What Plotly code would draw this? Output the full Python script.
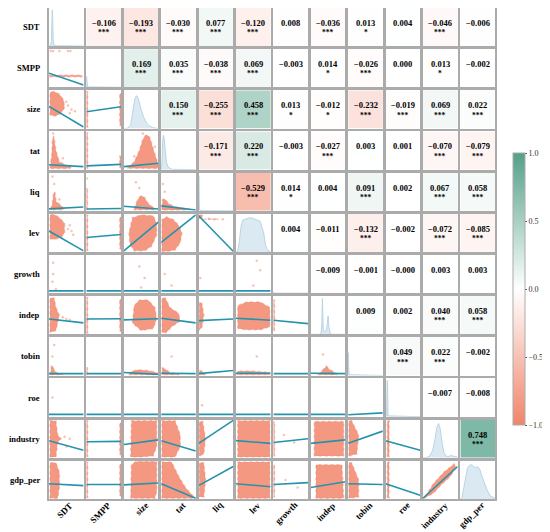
import plotly.graph_objects as go
from plotly.subplots import make_subplots

variables = ["SDT", "SMPP", "size", "tat", "liq", "lev", "growth",
             "indep", "tobin", "roe", "industry", "gdp_per"]

# upper triangle, one list per row (columns to the right of the diagonal)
corr_rows = [
    [-0.106, -0.193, -0.030, 0.077, -0.120, 0.008, -0.036, 0.013, 0.004, -0.046, -0.006],
    [0.169, 0.035, -0.038, 0.069, -0.003, 0.014, -0.026, 0.000, 0.013, -0.002],
    [0.150, -0.255, 0.458, 0.013, -0.012, -0.232, -0.019, 0.069, 0.022],
    [-0.171, 0.220, -0.003, -0.027, 0.003, 0.001, -0.070, -0.079],
    [-0.529, 0.014, 0.004, 0.091, 0.002, 0.067, 0.058],
    [0.004, -0.011, -0.132, -0.002, -0.072, -0.085],
    [-0.009, -0.001, -0.0, 0.003, 0.003],
    [0.009, 0.002, 0.040, 0.058],
    [0.049, 0.022, -0.002],
    [-0.007, -0.008],
    [0.748],
]
star_rows = [
    ["***", "***", "***", "***", "***", "", "***", "*", "", "***", ""],
    ["***", "***", "***", "***", "", "*", "***", "", "*", ""],
    ["***", "***", "***", "*", "*", "***", "***", "***", "***"],
    ["***", "***", "", "***", "", "", "***", "***"],
    ["***", "*", "", "***", "", "***", "***"],
    ["", "", "***", "", "***", "***"],
    ["", "", "", "", ""],
    ["", "", "***", "***"],
    ["***", "***", ""],
    ["", ""],
    ["***"],
]

# diagonal density curves (cell-normalised x, height)
kde_curves = {
    "SDT": ([0, 0.05, 0.07, 0.085, 0.095, 0.105, 0.12, 0.14, 0.2, 1],
            [0, 0.01, 0.15, 0.7, 0.95, 0.75, 0.2, 0.04, 0.01, 0]),
    "SMPP": ([0, 0.005, 0.015, 0.03, 1], [0, 0.3, 0.2, 0.01, 0]),
    "size": ([0, 0.12, 0.2, 0.27, 0.32, 0.37, 0.42, 0.5, 0.58, 0.66, 0.75, 0.85, 0.95, 1],
             [0, 0.01, 0.1, 0.45, 0.78, 0.86, 0.78, 0.5, 0.28, 0.14, 0.06, 0.02, 0.005, 0]),
    "tat": ([0, 0.02, 0.04, 0.06, 0.08, 0.11, 0.15, 0.2, 0.3, 1],
            [0, 0.2, 0.7, 0.9, 0.85, 0.5, 0.2, 0.07, 0.01, 0]),
    "liq": ([0, 0.005, 0.012, 0.02, 0.04, 1], [0, 0.92, 0.6, 0.1, 0.01, 0]),
    "lev": ([0, 0.05, 0.1, 0.15, 0.2, 0.3, 0.4, 0.5, 0.6, 0.7, 0.8, 0.85, 0.9, 0.95, 1],
            [0, 0.02, 0.3, 0.7, 0.84, 0.88, 0.9, 0.88, 0.85, 0.8, 0.5, 0.2, 0.06, 0.02, 0]),
    "growth": ([0, 0.005, 0.015, 1], [0, 0.03, 0, 0]),
    "indep": ([0, 0.25, 0.3, 0.32, 0.335, 0.345, 0.36, 0.4, 0.45, 0.48, 0.5, 0.52, 0.56, 0.6, 1],
              [0, 0, 0.04, 0.3, 0.94, 0.5, 0.1, 0.08, 0.1, 0.3, 0.48, 0.2, 0.04, 0, 0]),
    "tobin": ([0, 0.005, 0.012, 0.025, 1], [0, 0.6, 0.3, 0.02, 0]),
    "roe": ([0, 0.03, 0.045, 0.055, 0.07, 1], [0, 0.02, 0.95, 0.9, 0.02, 0]),
    "industry": ([0, 0.1, 0.2, 0.28, 0.35, 0.4, 0.45, 0.5, 0.55, 0.6, 0.66, 0.72, 0.8, 0.9, 1],
                 [0, 0.01, 0.05, 0.2, 0.5, 0.8, 0.9, 0.75, 0.4, 0.15, 0.05, 0.03, 0.06, 0.04, 0.02]),
    "gdp_per": ([0, 0.05, 0.1, 0.15, 0.2, 0.26, 0.32, 0.38, 0.44, 0.5, 0.56, 0.62, 0.7, 0.78, 0.86, 0.93, 1],
                [0, 0.05, 0.3, 0.6, 0.8, 0.88, 0.9, 0.85, 0.82, 0.85, 0.78, 0.6, 0.4, 0.22, 0.08, 0.04, 0.02]),
}

# fitted line: height at left and right edge of the lower cells, key (row, col)
fit_lines = {
    (1, 0): (0.37, 0.06),
    (2, 0): (0.58, 0.04), (2, 1): (0.44, 0.57),
    (3, 0): (0.13, 0.08), (3, 1): (0.10, 0.14), (3, 2): (0.08, 0.17),
    (4, 0): (0.05, 0.10), (4, 1): (0.05, 0.06), (4, 2): (0.12, 0.05), (4, 3): (0.13, 0.02),
    (5, 0): (0.55, 0.03), (5, 1): (0.38, 0.46), (5, 2): (0.03, 0.78), (5, 3): (0.25, 0.97),
    (5, 4): (0.95, 0.02),
    (6, 0): (0.06, 0.06), (6, 1): (0.06, 0.06), (6, 2): (0.06, 0.06), (6, 3): (0.06, 0.06),
    (6, 4): (0.06, 0.06), (6, 5): (0.06, 0.06),
    (7, 0): (0.40, 0.30), (7, 1): (0.40, 0.41), (7, 2): (0.38, 0.41), (7, 3): (0.42, 0.30),
    (7, 4): (0.36, 0.40), (7, 5): (0.42, 0.37), (7, 6): (0.37, 0.28),
    (8, 0): (0.05, 0.05), (8, 1): (0.05, 0.05), (8, 2): (0.08, 0.03), (8, 3): (0.06, 0.05),
    (8, 4): (0.05, 0.13), (8, 5): (0.06, 0.06), (8, 6): (0.05, 0.05), (8, 7): (0.06, 0.05),
    (9, 0): (0.06, 0.06), (9, 1): (0.06, 0.06), (9, 2): (0.06, 0.06), (9, 3): (0.06, 0.06),
    (9, 4): (0.06, 0.06), (9, 5): (0.06, 0.06), (9, 6): (0.06, 0.06), (9, 7): (0.06, 0.06),
    (9, 8): (0.05, 0.10),
    (10, 0): (0.45, 0.20), (10, 1): (0.42, 0.43), (10, 2): (0.35, 0.47), (10, 3): (0.45, 0.18),
    (10, 4): (0.38, 0.98), (10, 5): (0.45, 0.38), (10, 6): (0.40, 0.50), (10, 7): (0.38, 0.47),
    (10, 8): (0.38, 0.70), (10, 9): (0.45, 0.20),
    (11, 0): (0.40, 0.35), (11, 1): (0.38, 0.38), (11, 2): (0.37, 0.42), (11, 3): (0.40, 0.02),
    (11, 4): (0.35, 0.85), (11, 5): (0.40, 0.32), (11, 6): (0.38, 0.43), (11, 7): (0.30, 0.45),
    (11, 8): (0.40, 0.38), (11, 9): (0.40, 0.10), (11, 10): (0.02, 0.85),
}

# outline of the dense point clouds in the lower cells
left_strip = [(0, 0.03), (0.035, 0.03), (0.035, 0.97), (0, 0.97)]
right_strip = [(0.965, 0.08), (1, 0.08), (1, 0.92), (0.965, 0.92)]
point_clouds = {
    (1, 0): [[(0.02, 0.28), (0.95, 0.28), (0.95, 0.32), (0.02, 0.32)]],
    (2, 0): [[(0.03, 0.35), (0.03, 0.95), (0.15, 0.97), (0.3, 0.9), (0.42, 0.75),
              (0.45, 0.55), (0.35, 0.4), (0.2, 0.33)]],
    (2, 1): [left_strip, right_strip],
    (3, 0): [[(0.03, 0.05), (0.08, 0.4), (0.1, 0.8), (0.14, 0.88), (0.2, 0.5), (0.3, 0.2),
              (0.5, 0.12), (0.65, 0.08), (0.6, 0.03), (0.03, 0.03)]],
    (3, 1): [left_strip, [(0.965, 0.05), (1, 0.05), (1, 0.35), (0.965, 0.35)]],
    (3, 2): [[(0.1, 0.04), (0.3, 0.2), (0.45, 0.5), (0.55, 0.8), (0.65, 0.92), (0.75, 0.85),
              (0.85, 0.55), (0.95, 0.3), (1.0, 0.12), (0.98, 0.03)]],
    (4, 0): [[(0.05, 0.05), (0.1, 0.2), (0.13, 0.45), (0.17, 0.5), (0.2, 0.25), (0.35, 0.12),
              (0.45, 0.06), (0.4, 0.03), (0.05, 0.03)]],
    (4, 1): [[(0, 0.03), (0.03, 0.03), (0.03, 0.6), (0, 0.6)]],
    (4, 2): [[(0.3, 0.05), (0.35, 0.2), (0.4, 0.3), (0.5, 0.4), (0.6, 0.35), (0.7, 0.2),
              (0.8, 0.12), (0.9, 0.05), (0.85, 0.03), (0.3, 0.03)]],
    (4, 3): [[(0.02, 0.1), (0.04, 0.3), (0.1, 0.32), (0.2, 0.2), (0.35, 0.12), (0.55, 0.08),
              (0.8, 0.05), (0.8, 0.02), (0.02, 0.02)]],
    (5, 0): [[(0.03, 0.35), (0.03, 0.97), (0.15, 0.98), (0.3, 0.9), (0.45, 0.75), (0.45, 0.5),
              (0.35, 0.38), (0.15, 0.33)]],
    (5, 1): [left_strip, right_strip],
    (5, 2): [[(0.15, 0.5), (0.18, 0.2), (0.3, 0.03), (0.6, 0.03), (0.8, 0.15), (0.95, 0.45),
              (0.95, 0.75), (0.85, 0.95), (0.5, 0.97), (0.25, 0.9)]],
    (5, 3): [[(0.02, 0.02), (0.02, 0.85), (0.15, 0.92), (0.35, 0.85), (0.5, 0.7), (0.6, 0.5),
              (0.55, 0.25), (0.4, 0.05), (0.2, 0.02)]],
    (5, 4): [[(0.0, 0.88), (0.1, 0.9), (0.12, 0.96), (0.0, 0.97)],
             [(0.1, 0.86), (0.6, 0.86), (0.6, 0.875), (0.1, 0.875)]],
    (7, 0): [[(0.03, 0.05), (0.03, 0.95), (0.15, 0.95), (0.2, 0.7), (0.3, 0.5), (0.25, 0.3),
              (0.2, 0.1)]],
    (7, 1): [left_strip, right_strip],
    (7, 2): [[(0.25, 0.3), (0.3, 0.75), (0.45, 0.9), (0.7, 0.9), (0.9, 0.7), (0.95, 0.4),
              (0.85, 0.15), (0.5, 0.1)]],
    (7, 3): [[(0.02, 0.05), (0.02, 0.95), (0.12, 0.95), (0.25, 0.7), (0.5, 0.55), (0.55, 0.35),
              (0.3, 0.2), (0.15, 0.05)]],
    (7, 4): [[(0.02, 0.1), (0.02, 0.85), (0.1, 0.8), (0.15, 0.5), (0.1, 0.2)]],
    (7, 5): [[(0.05, 0.15), (0.05, 0.75), (0.3, 0.85), (0.7, 0.85), (0.98, 0.7), (0.98, 0.2),
              (0.7, 0.12), (0.3, 0.12)]],
    (7, 6): [[(0, 0.1), (0.03, 0.1), (0.03, 0.9), (0, 0.9)]],
    (8, 0): [[(0.03, 0.02), (0.05, 0.1), (0.08, 0.28), (0.12, 0.2), (0.2, 0.08), (0.4, 0.04),
              (0.4, 0.02)]],
    (8, 1): [[(0, 0.02), (0.03, 0.02), (0.03, 0.2), (0, 0.2)]],
    (8, 2): [[(0.15, 0.02), (0.2, 0.1), (0.4, 0.15), (0.7, 0.13), (0.95, 0.08), (1.0, 0.02)]],
    (8, 3): [[(0.02, 0.02), (0.03, 0.2), (0.1, 0.18), (0.25, 0.08), (0.5, 0.04), (0.5, 0.02)]],
    (8, 4): [[(0.02, 0.02), (0.03, 0.15), (0.1, 0.1), (0.2, 0.04), (0.2, 0.02)]],
    (8, 5): [[(0.02, 0.02), (0.05, 0.12), (0.4, 0.12), (0.98, 0.08), (0.98, 0.02)]],
    (8, 7): [[(0.2, 0.02), (0.3, 0.1), (0.45, 0.25), (0.55, 0.15), (0.75, 0.05), (0.75, 0.02)]],
    (10, 0): [[(0.03, 0.02), (0.03, 0.97), (0.2, 0.97), (0.25, 0.6), (0.35, 0.5), (0.25, 0.4),
               (0.2, 0.02)]],
    (10, 1): [left_strip, right_strip],
    (10, 2): [[(0.2, 0.02), (0.22, 0.97), (0.95, 0.97), (0.95, 0.3), (0.85, 0.05), (0.5, 0.02)]],
    (10, 3): [[(0.02, 0.02), (0.02, 0.97), (0.4, 0.97), (0.55, 0.6), (0.55, 0.3), (0.4, 0.02)]],
    (10, 4): [[(0.02, 0.05), (0.02, 0.95), (0.12, 0.95), (0.2, 0.5), (0.15, 0.1)]],
    (10, 5): [[(0.05, 0.02), (0.05, 0.97), (0.98, 0.97), (0.98, 0.02)]],
    (10, 6): [[(0, 0.05), (0.03, 0.05), (0.03, 0.95), (0, 0.95)]],
    (10, 7): [[(0.1, 0.05), (0.1, 0.95), (0.95, 0.95), (0.95, 0.05)]],
    (10, 8): [[(0.02, 0.05), (0.02, 0.97), (0.1, 0.97), (0.3, 0.6), (0.25, 0.1)]],
    (10, 9): [[(0.05, 0.03), (0.1, 0.03), (0.1, 0.97), (0.05, 0.97)]],
    (11, 0): [[(0.03, 0.02), (0.03, 0.95), (0.2, 0.95), (0.3, 0.7), (0.3, 0.3), (0.25, 0.02)]],
    (11, 1): [left_strip, right_strip],
    (11, 2): [[(0.2, 0.02), (0.22, 0.9), (0.35, 0.98), (0.95, 0.98), (0.95, 0.2), (0.9, 0.02)]],
    (11, 3): [[(0.02, 0.02), (0.02, 0.97), (0.3, 0.97), (0.5, 0.6), (0.7, 0.3), (0.95, 0.05),
               (0.9, 0.02)]],
    (11, 4): [[(0.02, 0.05), (0.02, 0.95), (0.15, 0.95), (0.2, 0.5), (0.15, 0.05)]],
    (11, 5): [[(0.05, 0.02), (0.05, 0.97), (0.98, 0.97), (0.98, 0.02)]],
    (11, 6): [[(0, 0.05), (0.03, 0.05), (0.03, 0.9), (0, 0.9)]],
    (11, 7): [[(0.15, 0.02), (0.15, 0.9), (0.9, 0.9), (0.95, 0.02)]],
    (11, 8): [[(0.02, 0.02), (0.02, 0.95), (0.1, 0.95), (0.3, 0.5), (0.3, 0.05)]],
    (11, 9): [[(0.05, 0.03), (0.1, 0.03), (0.1, 0.97), (0.05, 0.97)]],
    (11, 10): [[(0.03, 0.02), (0.3, 0.15), (0.5, 0.35), (0.8, 0.6), (0.95, 0.85), (0.9, 0.92),
                (0.6, 0.7), (0.3, 0.4), (0.1, 0.12)]],
}

# a few isolated points that sit outside the clouds
stray_points = {
    (1, 0): [(0.05, 0.95), (0.12, 0.95), (0.3, 0.95), (0.55, 0.95), (0.62, 0.95)],
    (2, 0): [(0.55, 0.6), (0.65, 0.5), (0.75, 0.45), (0.6, 0.4), (0.5, 0.7)],
    (3, 0): [(0.12, 0.95), (0.4, 0.3)],
    (3, 2): [(0.55, 0.95), (0.9, 0.6), (0.3, 0.35)],
    (4, 0): [(0.1, 0.9), (0.15, 0.7), (0.3, 0.3)],
    (4, 1): [(0.02, 0.85)],
    (4, 2): [(0.35, 0.75), (0.45, 0.6)],
    (4, 3): [(0.1, 0.5), (0.05, 0.7)],
    (5, 0): [(0.55, 0.6), (0.65, 0.55), (0.7, 0.45), (0.6, 0.7)],
    (5, 4): [(0.3, 0.87), (0.45, 0.86), (0.7, 0.86)],
    (6, 0): [(0.12, 0.5), (0.12, 0.8), (0.1, 0.3), (0.2, 0.1)],
    (6, 2): [(0.45, 0.7), (0.6, 0.4), (0.5, 0.15)],
    (6, 3): [(0.1, 0.5), (0.3, 0.2)],
    (6, 4): [(0.05, 0.4)],
    (6, 5): [(0.5, 0.2), (0.7, 0.6), (0.6, 0.85)],
    (7, 0): [(0.4, 0.45), (0.5, 0.4), (0.6, 0.38)],
    (8, 0): [(0.1, 0.5), (0.15, 0.8)],
    (8, 3): [(0.3, 0.5)],
    (8, 5): [(0.6, 0.5)],
    (8, 7): [(0.35, 0.55)],
    (9, 0): [(0.1, 0.5)],
    (9, 4): [(0.1, 0.3)],
    (10, 0): [(0.45, 0.55), (0.5, 0.3), (0.6, 0.5)],
    (10, 6): [(0.3, 0.6), (0.6, 0.4)],
    (11, 6): [(0.35, 0.5), (0.7, 0.3)],
}

n = len(variables)
fig = make_subplots(rows=n, cols=n, horizontal_spacing=0.0063, vertical_spacing=0.0061)

salmon = "#F2866C"
fit_color = "#2593AC"


def axis_ref(letter, idx):
    return f"{letter}{'' if idx == 1 else idx} domain"


for r in range(n):
    for c in range(n):
        if r < c:
            val = corr_rows[r][c - r - 1]
            fig.add_trace(go.Heatmap(z=[[val]], x=[0.5], y=[0.5], coloraxis="coloraxis",
                                     hoverinfo="skip"), row=r + 1, col=c + 1)
        elif r == c:
            xs, ys = kde_curves[variables[r]]
            fig.add_trace(go.Scatter(x=xs, y=ys, mode="lines", fill="tozeroy",
                                     line=dict(color="#B7D4E3", width=1),
                                     fillcolor="rgba(200,223,235,0.65)", hoverinfo="skip"),
                          row=r + 1, col=c + 1)
        else:
            px, py = [], []
            for poly in point_clouds.get((r, c), []):
                px += [p[0] for p in poly] + [poly[0][0], None]
                py += [p[1] for p in poly] + [poly[0][1], None]
            if px:
                fig.add_trace(go.Scatter(x=px, y=py, mode="lines", fill="toself",
                                         fillcolor="rgba(242,134,108,0.85)",
                                         line=dict(color="rgba(242,134,108,0.45)", width=1.5,
                                                   dash="dot"),
                                         hoverinfo="skip"), row=r + 1, col=c + 1)
            pts = stray_points.get((r, c), [])
            if pts:
                fig.add_trace(go.Scatter(x=[p[0] for p in pts], y=[p[1] for p in pts],
                                         mode="markers",
                                         marker=dict(color=salmon, size=2.5, opacity=0.5),
                                         hoverinfo="skip"), row=r + 1, col=c + 1)
            y0, y1 = fit_lines[(r, c)]
            fig.add_trace(go.Scatter(x=[0, 1], y=[y0, y1], mode="lines",
                                     line=dict(color=fit_color, width=1.6),
                                     hoverinfo="skip"), row=r + 1, col=c + 1)

fig.update_xaxes(range=[0, 1], showticklabels=False, showgrid=False, zeroline=False,
                 showline=True, mirror=True, linecolor="#ABABAB", linewidth=1.5, ticks="")
fig.update_yaxes(range=[0, 1], showticklabels=False, showgrid=False, zeroline=False,
                 showline=True, mirror=True, linecolor="#ABABAB", linewidth=1.5, ticks="")

serif = "Times New Roman, Liberation Serif, serif"
annotations = []
for r in range(n):
    for c in range(r + 1, n):
        idx = r * n + c + 1
        val = corr_rows[r][c - r - 1]
        annotations.append(dict(
            text=f"{val:.3f}".replace("-", "\u2212"), xref=axis_ref("x", idx),
            yref=axis_ref("y", idx), x=0.5, y=0.61, showarrow=False,
            font=dict(family=serif, size=8.5, color="black", weight="bold")))
        if star_rows[r][c - r - 1]:
            annotations.append(dict(
                text=star_rows[r][c - r - 1], xref=axis_ref("x", idx), yref=axis_ref("y", idx),
                x=0.5, y=0.35, showarrow=False,
                font=dict(family=serif, size=7.5, color="black", weight="bold")))

for i, name in enumerate(variables):
    row_idx = i * n + 1
    annotations.append(dict(text=name, xref="paper", yref=axis_ref("y", row_idx),
                            x=-0.017, y=0.5, xanchor="right", showarrow=False, borderpad=0,
                            font=dict(family=serif, size=8.5, color="black", weight="bold")))
    col_idx = (n - 1) * n + i + 1
    annotations.append(dict(text=name, xref=axis_ref("x", col_idx), yref="paper",
                            x=0.8, y=0.0, xanchor="right", yanchor="top", borderpad=0,
                            textangle=-45, showarrow=False,
                            font=dict(family=serif, size=9, color="black", weight="bold")))

# the page adds an 8 px body margin, so the figure is 8 px smaller than the window
fig.update_layout(
    width=542, height=524,
    margin=dict(l=40.5, r=55, t=0, b=33, autoexpand=False),
    plot_bgcolor="white", paper_bgcolor="white",
    showlegend=False,
    annotations=annotations,
    coloraxis=dict(
        cmin=-1, cmax=1,
        colorscale=[[0, "#F0846A"], [0.5, "#FFFFFF"], [1, "#53A088"]],
        colorbar=dict(
            x=1.017, xanchor="left", y=0.4275, yanchor="middle", len=0.595,
            thickness=11.5, outlinecolor="#ABABAB", outlinewidth=1,
            tickvals=[-1, -0.5, 0, 0.5, 1],
            ticktext=["\u22121.0", "\u22120.5", "0.0", "0.5", "1.0"],
            ticks="outside", ticklen=2, tickcolor="#555555",
            tickfont=dict(family=serif, size=8, color="#333333"),
            title=dict(text="Pearson Correlation", side="right",
                       font=dict(family=serif, size=9, color="#333333", weight="bold")),
        ),
    ),
)

fig.write_html("out.html")
